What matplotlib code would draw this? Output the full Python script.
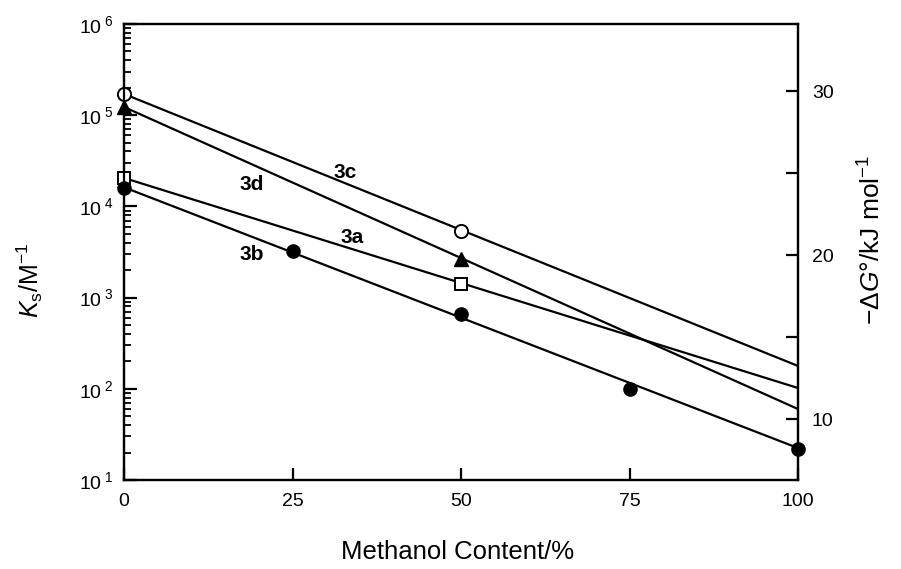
import math
import matplotlib
matplotlib.use("Agg")
import matplotlib.pyplot as plt
from matplotlib.ticker import FixedLocator, LogLocator, NullFormatter, FuncFormatter

plt.rcParams['font.family'] = ['Liberation Sans', 'DejaVu Sans']
plt.rcParams['mathtext.fontset'] = 'custom'
plt.rcParams['mathtext.rm'] = 'Liberation Sans'
plt.rcParams['mathtext.it'] = 'Liberation Sans:italic'
plt.rcParams['mathtext.bf'] = 'Liberation Sans:bold'

# Data points (methanol content %, Ks / M^-1)
x_3a = [0, 50]
k_3a = [2.05e4, 1420]
x_3b = [0, 25, 50, 75, 100]
k_3b = [1.6e4, 3240, 660, 100, 22]
x_3c = [0, 50]
k_3c = [1.71e5, 5400]
x_3d = [0, 50]
k_3d = [1.23e5, 2640]

# Fitted line endpoints (at 0 % and 100 %)
fit_x = [0, 100]
fit_3a = [2.05e4, 102]
fit_3b = [1.62e4, 22.4]
fit_3c = [1.71e5, 178]
fit_3d = [1.23e5, 60]

# Curve labels: (text, x, Ks)
labels = [("3c", 32.8, 2.38e4), ("3d", 18.9, 1.72e4),
          ("3a", 33.8, 4.57e3), ("3b", 18.9, 2.95e3)]

xticks = [0, 25, 50, 75, 100]
right_ticks = [10, 15, 20, 25, 30]
right_labels = ["10", "", "20", "", "30"]

fig = plt.figure(figsize=(9.01, 5.69), dpi=100)
ax = fig.add_axes([124/901, 89/569, 674/901, 456/569])

lw = 1.6
for fy in (fit_3a, fit_3b, fit_3c, fit_3d):
    ax.plot(fit_x, fy, color='black', lw=lw, zorder=2)

ms = 9.5
ax.plot(x_3c, k_3c, 'o', ms=ms, mfc='white', mec='black', mew=1.4, zorder=4, clip_on=False)
ax.plot(x_3d, k_3d, '^', ms=ms, mfc='black', mec='black', zorder=4, clip_on=False)
ax.plot(x_3a, k_3a, 's', ms=ms-0.5, mfc='white', mec='black', mew=1.4, zorder=4, clip_on=False)
ax.plot(x_3b, k_3b, 'o', ms=ms, mfc='black', mec='black', zorder=4, clip_on=False)

for t, lx, ly in labels:
    ax.text(lx, ly, t, fontsize=15, fontweight='bold', ha='center', va='center')

ax.set_yscale('log')
ax.set_xlim(0, 100)
ax.set_ylim(10, 1e6)
ax.xaxis.set_major_locator(FixedLocator(xticks))
ax.set_xticklabels([str(v) for v in xticks])
ax.yaxis.set_major_locator(LogLocator(base=10, numticks=10))
ax.yaxis.set_minor_locator(LogLocator(base=10, subs=range(2, 10), numticks=20))
ax.yaxis.set_minor_formatter(NullFormatter())
ax.yaxis.set_major_formatter(FuncFormatter(
    lambda v, p: r'$\mathregular{10}^{\;\mathregular{%d}}$' % round(math.log10(v))))

for s in ax.spines.values():
    s.set_linewidth(1.6)
ax.tick_params(axis='both', which='major', direction='in', length=9, width=1.6, labelsize=14)
ax.tick_params(axis='y', which='minor', direction='in', length=5, width=1.3)
ax.tick_params(axis='x', pad=9)
ax.tick_params(axis='y', pad=8)
ax.tick_params(top=False, right=False)

ax2 = ax.twinx()
ax2.set_ylim(6.30, 34.10)
ax2.yaxis.set_major_locator(FixedLocator(right_ticks))
ax2.set_yticklabels(right_labels)
ax2.tick_params(axis='y', direction='in', length=9, width=1.6, labelsize=14, pad=10)
for s in ax2.spines.values():
    s.set_linewidth(1.6)

fig.text(30/901, 1 - 280/569, r'$K_\mathregular{s}$/M$^{\mathregular{-1}}$',
         fontsize=18, rotation=90, ha='center', va='center')
fig.text(872/901, 1 - 240/569, r'$-\Delta G$°/kJ mol$^{\mathregular{-1}}$',
         fontsize=19, rotation=90, ha='center', va='center')
fig.text(458/901, 1 - 552/569, 'Methanol Content/%',
         fontsize=18.5, ha='center', va='center')

fig.savefig('out.png', dpi=100)
